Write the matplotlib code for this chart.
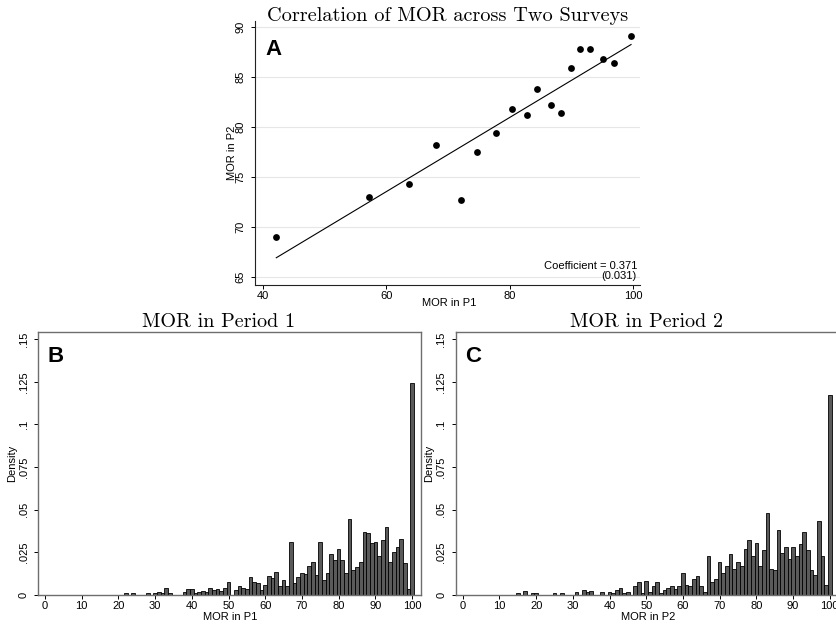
import numpy as np
import matplotlib
matplotlib.use('Agg')
import matplotlib.pyplot as plt

# Panel A: MOR by unit in the two surveys
mor_p1 = [42.2, 57.3, 63.7, 68.1, 72.2, 74.7, 77.8, 80.4, 82.8, 84.5,
          86.7, 88.4, 90.0, 91.5, 93.0, 95.1, 97.0, 99.7]
mor_p2 = [69.0, 73.0, 74.3, 78.2, 72.7, 77.5, 79.4, 81.8, 81.2, 83.8,
          82.2, 81.4, 85.9, 87.8, 87.8, 86.8, 86.4, 89.1]
coef_text = 'Coefficient = 0.371\n(0.031)'

# Panel B: histogram of MOR in period 1
p1_bins = [22, 24, 28, 30, 31, 32, 33, 34, 38, 39, 40, 41, 42, 43, 44, 45, 46, 47, 48, 49,
           50, 52, 53, 54, 55, 56, 57, 58, 59, 60, 61, 62, 63, 64, 65, 66, 67, 68, 69, 70,
           71, 72, 73, 74, 75, 76, 77, 78, 79, 80, 81, 82, 83, 84, 85, 86, 87, 88, 89, 90,
           91, 92, 93, 94, 95, 96, 97, 98, 99, 100]
p1_density = [.001, .001, .001, .001, .002, .0012, .0043, .001, .0017, .0034, .0034, .0011,
              .002, .0026, .002, .0043, .0031, .0033, .0025, .0043,
              .0078, .0027, .0053, .0043, .0035, .0103, .0078, .0068, .0029, .006,
              .011, .0102, .0135, .0053, .0086, .0051, .031, .007, .0103, .0129,
              .0121, .017, .0193, .0119, .031, .0088, .0127, .0238, .0205, .027,
              .0205, .0127, .0445, .0146, .0162, .0195, .0371, .0361, .0307, .0313,
              .0229, .0322, .0396, .0195, .025, .0283, .0328, .0189, .0035, .124]

# Panel C: histogram of MOR in period 2
p2_bins = [15, 17, 19, 20, 25, 27, 31, 33, 34, 35, 38, 40, 41, 42, 43, 44, 45, 47, 48, 49,
           50, 51, 52, 53, 54, 55, 56, 57, 58, 59, 60, 61, 62, 63, 64, 65, 66, 67, 68, 69,
           70, 71, 72, 73, 74, 75, 76, 77, 78, 79, 80, 81, 82, 83, 84, 85, 86, 87, 88, 89,
           90, 91, 92, 93, 94, 95, 96, 97, 98, 99, 100]
p2_density = [.001, .0025, .001, .001, .001, .001, .0016, .0027, .0018, .0025, .0016, .0016,
              .0012, .0027, .0043, .001, .0018, .005, .0076, .001,
              .0084, .0018, .005, .0076, .001, .0027, .0043, .005, .0035, .005,
              .0127, .006, .005, .0094, .011, .005, .0018, .0228, .0076, .0094,
              .0195, .0127, .017, .0238, .0152, .0195, .017, .027, .0322, .0229,
              .0307, .017, .0264, .0482, .0152, .0145, .0381, .0248, .0279, .0211,
              .0279, .0229, .0297, .0371, .0262, .0145, .0119, .0432, .0229, .006, .117]

W, H = 836, 626
SERIF = 'cmr10'
SANS = 'Liberation Sans'


def box(l, t, r, b):
    return [l / W, 1 - b / H, (r - l) / W, (b - t) / H]


def ftext(fig, x, y, s, **kw):
    fig.text(x / W, 1 - y / H, s, **kw)


def main():
    plt.rcParams['font.family'] = SANS
    fig = plt.figure(figsize=(W / 100, H / 100), dpi=100)

    # ---- panel A: scatter + linear fit
    ax = fig.add_axes(box(255, 20.7, 640, 285))
    x = np.array(mor_p1)
    y = np.array(mor_p2)
    ax.scatter(x, y, s=24, color='black', zorder=3, linewidths=0)
    b, a = np.polyfit(x, y, 1)
    xf = np.array([x.min(), x.max()])
    ax.plot(xf, a + b * xf, color='black', lw=0.8, zorder=2)
    ax.set_xlim(38.75, 101.15)
    ax.set_ylim(64.17, 90.6)
    ax.set_xticks([40, 60, 80, 100])
    ax.set_yticks([65, 70, 75, 80, 85, 90])
    ax.grid(axis='y', color='#e6e6e6', lw=0.8)
    ax.set_axisbelow(True)
    for s in ['top', 'right']:
        ax.spines[s].set_visible(False)
    for s in ['left', 'bottom']:
        ax.spines[s].set_color('#222222')
        ax.spines[s].set_linewidth(0.8)
    ax.tick_params(axis='x', length=3, width=0.7, pad=1.5, labelsize=8)
    ax.tick_params(axis='y', length=3, width=0.7, pad=4, labelsize=8, labelrotation=90)
    for lab in ax.get_yticklabels():
        lab.set_va('center')
    ax.text(0.992, 0.015, coef_text, transform=ax.transAxes, ha='right', va='bottom',
            multialignment='right', fontsize=8, linespacing=1.0)
    ftext(fig, 265, 55, 'A', fontsize=16, fontweight='bold', ha='left', va='baseline')
    ftext(fig, 447.9, 20.7, 'Correlation of MOR across Two Surveys', family=SERIF,
          fontsize=14.6, ha='center', va='baseline')
    ftext(fig, 231.7, 152.9, 'MOR in P2', rotation=90, ha='center', va='center', fontsize=8)
    ftext(fig, 449, 303, 'MOR in P1', ha='center', va='center', fontsize=8)

    # ---- panels B and C: histograms
    panels = [
        (38.3, p1_bins, p1_density, 'B', 'MOR in Period 1', 'MOR in P1', 218.5, 230),
        (456.0, p2_bins, p2_density, 'C', 'MOR in Period 2', 'MOR in P2', 646.5, 648),
    ]
    yt = [0, .025, .05, .075, .1, .125, .15]
    ytl = ['0', '.025', '.05', '.075', '.1', '.125', '.15']
    for left, bins, dens, letter, title, xlab, tx, lx in panels:
        ax = fig.add_axes(box(left, 331.7, left + 382.2, 595))
        ax.bar(bins, dens, width=1.0, color='#5a5a5a', edgecolor='black', lw=0.6)
        ax.set_xlim(-1.83, 102.3)
        ax.set_ylim(0, 0.1543)
        ax.set_xticks(range(0, 101, 10))
        ax.set_yticks(yt)
        ax.set_yticklabels(ytl)
        for s in ax.spines.values():
            s.set_color('#6e6e6e')
            s.set_linewidth(1.0)
        ax.tick_params(axis='x', length=3, width=0.7, pad=1.5, labelsize=8)
        ax.tick_params(axis='y', length=3, width=0.7, pad=4, labelsize=8, labelrotation=90)
        for lab in ax.get_yticklabels():
            lab.set_va('center')
        ftext(fig, left + 9, 362, letter, fontsize=16, fontweight='bold', ha='left', va='baseline')
        ftext(fig, tx, 326.7, title, family=SERIF, fontsize=14.5, ha='center', va='baseline')
        ftext(fig, left - 26.6, 463.3, 'Density', rotation=90, ha='center', va='center', fontsize=8)
        ftext(fig, lx, 617, xlab, ha='center', va='center', fontsize=8)

    fig.savefig('out.png', dpi=100)
    plt.close(fig)


if __name__ == '__main__':
    main()
